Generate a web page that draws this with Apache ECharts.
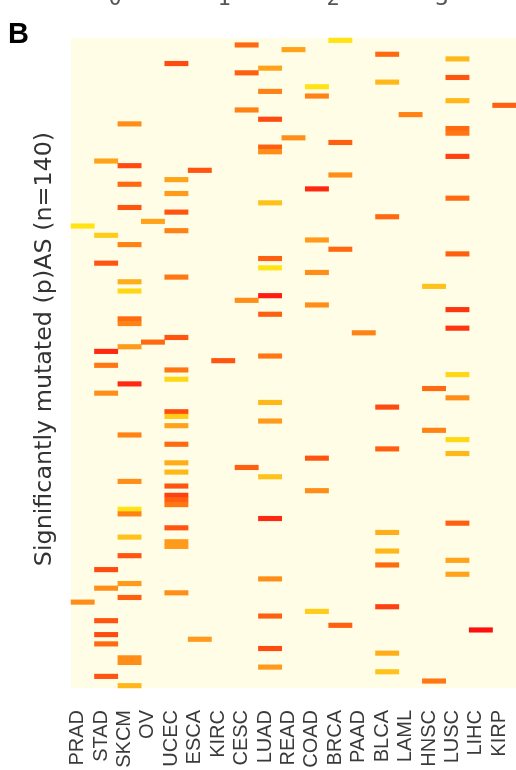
<!DOCTYPE html>
<html>
<head>
<meta charset="utf-8">
<script src="https://cdn.jsdelivr.net/npm/echarts@6/dist/echarts.min.js"></script>
<style>html,body{margin:0;padding:0;background:#fff;}#c{width:516px;height:770px;}</style>
</head>
<body>
<div id="c"></div>
<script>
// Cancer types (columns)
const categories = ['PRAD','STAD','SKCM','OV','UCEC','ESCA','KIRC','CESC','LUAD','READ','COAD','BRCA','PAAD','BLCA','LAML','HNSC','LUSC','LIHC','KIRP'];
const nRows = 140;
const topTicks = [0, 1, 2, 3];
// [row index (0 = top), colour intensity 0 (yellow) .. 1 (red)]
const PRAD = [[40,0.05],[121,0.45]];
const STAD = [[26,0.35],[42,0.15],[48,0.7],[67,0.9],[70,0.55],[76,0.45],[114,0.75],[118,0.45],[125,0.7],[128,0.75],[130,0.6],[137,0.7]];
const SKCM = [[18,0.45],[27,0.75],[31,0.6],[36,0.7],[44,0.5],[52,0.3],[54,0.1],[60,0.6],[61,0.5],[66,0.4],[74,0.9],[85,0.5],[95,0.45],[101,0.05],[102,0.5],[107,0.2],[111,0.7],[117,0.4],[120,0.65],[133,0.45],[134,0.45],[139,0.25]];
const OV   = [[39,0.35],[65,0.6]];
const UCEC = [[5,0.75],[30,0.35],[33,0.4],[37,0.7],[41,0.5],[51,0.55],[64,0.7],[71,0.55],[73,0.1],[80,0.75],[81,0.15],[83,0.35],[87,0.6],[91,0.3],[93,0.25],[96,0.7],[98,0.8],[99,0.65],[100,0.55],[105,0.7],[108,0.4],[109,0.4],[119,0.45]];
const ESCA = [[28,0.7],[129,0.4]];
const KIRC = [[69,0.7]];
const CESC = [[1,0.6],[7,0.65],[15,0.5],[56,0.45],[92,0.65]];
const LUAD = [[6,0.35],[11,0.5],[17,0.75],[23,0.65],[24,0.45],[35,0.2],[47,0.65],[49,0.05],[55,0.95],[59,0.65],[68,0.55],[78,0.25],[82,0.4],[94,0.2],[103,0.9],[116,0.45],[124,0.65],[131,0.75],[135,0.4]];
const READ = [[2,0.35],[21,0.45]];
const COAD = [[10,0.05],[12,0.5],[32,0.9],[43,0.4],[50,0.45],[57,0.45],[90,0.7],[97,0.45],[123,0.15]];
const BRCA = [[0,0.05],[22,0.65],[29,0.45],[45,0.6],[126,0.65]];
const PAAD = [[63,0.5]];
const BLCA = [[3,0.6],[9,0.25],[38,0.6],[79,0.75],[88,0.65],[106,0.3],[110,0.25],[113,0.6],[122,0.8],[132,0.3],[136,0.2]];
const LAML = [[16,0.5]];
const HNSC = [[53,0.2],[75,0.6],[84,0.5],[138,0.55]];
const LUSC = [[4,0.25],[8,0.7],[13,0.25],[19,0.6],[20,0.55],[25,0.8],[34,0.6],[46,0.65],[58,0.85],[62,0.85],[72,0.1],[77,0.45],[86,0.1],[89,0.25],[104,0.65],[112,0.35],[115,0.35]];
const LIHC = [[127,1.0]];
const KIRP = [[14,0.65]];

const columns = [PRAD,STAD,SKCM,OV,UCEC,ESCA,KIRC,CESC,LUAD,READ,COAD,BRCA,PAAD,BLCA,LAML,HNSC,LUSC,LIHC,KIRP];
const cells = [];
columns.forEach((col, ci) => col.forEach(([r, v]) => cells.push([ci, r, v])));
const rowCats = [];
for (let i = 0; i < nRows; i++) rowCats.push(String(i));

const chart = echarts.init(document.getElementById('c'), null, {renderer: 'canvas'});
chart.setOption({
  animation: false,
  backgroundColor: '#ffffff',
  title: {
    text: 'B', left: 3, top: 15,
    textStyle: {fontFamily: 'Liberation Sans', fontWeight: 'bold', fontSize: 29, color: '#000'}
  },
  grid: {left: 71, right: 0, top: 38, bottom: 82, show: true, backgroundColor: '#FFFDE6', borderWidth: 0,
         containLabel: false, outerBoundsMode: 'none'},
  xAxis: [{
    type: 'category', data: categories, position: 'bottom',
    axisLine: {show: false}, axisTick: {show: false}, splitLine: {show: false},
    axisLabel: {rotate: 90, margin: 22, interval: 0, fontFamily: 'Liberation Sans', fontSize: 20, color: '#3a3a3a',
                verticalAlign: 'bottom', lineHeight: 10}
  }, {
    type: 'value', position: 'top', min: -0.404, max: 3.679,
    axisLine: {show: false}, axisTick: {show: false}, splitLine: {show: false},
    axisLabel: {customValues: topTicks, margin: 28, fontFamily: 'DejaVu Sans Mono', fontSize: 22, color: '#555'}
  }],
  yAxis: {
    type: 'category', data: rowCats, inverse: true,
    axisLine: {show: false}, axisTick: {show: false}, axisLabel: {show: false}, splitLine: {show: false},
    name: 'Significantly mutated (p)AS (n=140)', nameLocation: 'middle', nameGap: 14,
    nameTextStyle: {fontFamily: 'DejaVu Sans', fontSize: 23.8, color: '#333', padding: [0, 0, 0, 28]}
  },
  visualMap: {
    show: false, min: 0, max: 1, dimension: 2,
    inRange: {color: ['#FFEE10', '#FFC21A', '#FF9A1A', '#FF6A10', '#FF4010', '#FF1010']}
  },
  series: [{
    type: 'heatmap', xAxisIndex: 0, yAxisIndex: 0, data: cells,
    itemStyle: {borderWidth: 0}, emphasis: {disabled: true}, progressive: 0
  }]
});
</script>
</body>
</html>
